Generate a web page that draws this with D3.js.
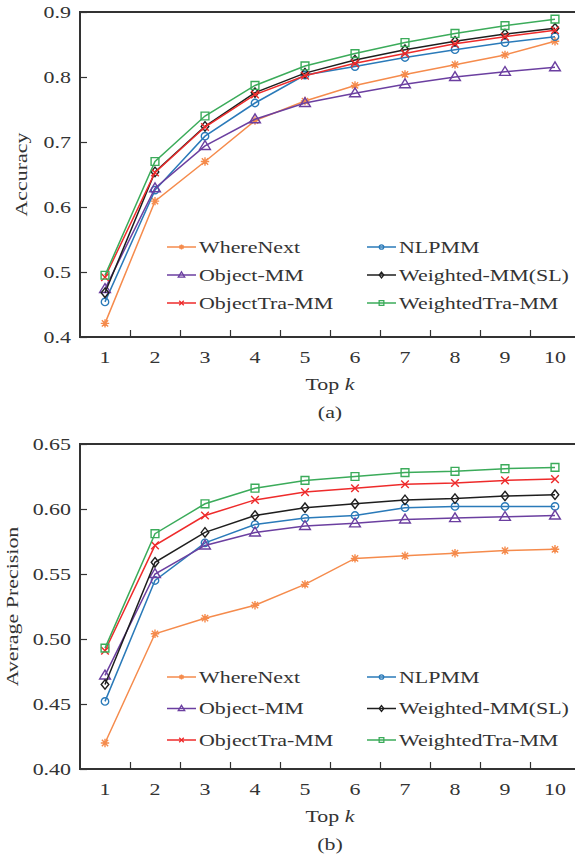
<!DOCTYPE html>
<html>
<head>
<meta charset="utf-8">
<script src="https://cdn.jsdelivr.net/npm/d3@7"></script>
<style>
  html, body { margin: 0; padding: 0; background: #fff; }
  svg { display: block; }
  text { font-family: "Liberation Serif", "DejaVu Serif", serif; fill: #333; }
</style>
</head>
<body>
<div id="chart"></div>
<script>
// Top-k accuracy / average precision for six methods

const topK = [1, 2, 3, 4, 5, 6, 7, 8, 9, 10]
const seriesNames = ["WhereNext", "NLPMM", "Object-MM", "Weighted-MM(SL)", "ObjectTra-MM", "WeightedTra-MM"]
const seriesColors = ["#f58b4c", "#2a7ab9", "#6b3fa0", "#1e1e1e", "#ee2b2b", "#3bab5a"]
const seriesMarkers = ["asterisk", "circle", "triangle", "diamond", "times", "square"]

// panel (a): accuracy
const accWhereNext = [0.421, 0.609, 0.670, 0.733, 0.763, 0.787, 0.804, 0.819, 0.834, 0.855]
const accNLPMM     = [0.454, 0.626, 0.709, 0.760, 0.803, 0.816, 0.830, 0.842, 0.853, 0.862]
const accObjectMM  = [0.474, 0.629, 0.694, 0.735, 0.760, 0.775, 0.789, 0.800, 0.808, 0.815]
const accWeighted  = [0.468, 0.654, 0.724, 0.776, 0.806, 0.826, 0.842, 0.855, 0.866, 0.875]
const accObjTra    = [0.492, 0.653, 0.723, 0.773, 0.802, 0.821, 0.836, 0.851, 0.862, 0.872]
const accWeiTra    = [0.495, 0.670, 0.740, 0.787, 0.817, 0.836, 0.853, 0.867, 0.879, 0.889]
const accTicks = [0.4, 0.5, 0.6, 0.7, 0.8, 0.9]

// panel (b): average precision
const apWhereNext = [0.420, 0.504, 0.516, 0.526, 0.542, 0.562, 0.564, 0.566, 0.568, 0.569]
const apNLPMM     = [0.452, 0.545, 0.574, 0.588, 0.593, 0.595, 0.601, 0.602, 0.602, 0.602]
const apObjectMM  = [0.472, 0.550, 0.572, 0.582, 0.587, 0.589, 0.592, 0.593, 0.594, 0.595]
const apWeighted  = [0.465, 0.559, 0.582, 0.595, 0.601, 0.604, 0.607, 0.608, 0.610, 0.611]
const apObjTra    = [0.491, 0.572, 0.595, 0.607, 0.613, 0.616, 0.619, 0.620, 0.622, 0.623]
const apWeiTra    = [0.493, 0.581, 0.604, 0.616, 0.622, 0.625, 0.628, 0.629, 0.631, 0.632]
const apTicks = [0.40, 0.45, 0.50, 0.55, 0.60, 0.65]

const W = 575, H = 856
const STRETCH = 1.29   // the reference font runs much wider than Liberation Serif
const FONT_SIZE = 17
const FRAME = "#333"

const svg = d3.select("#chart").append("svg")
  .attr("width", W)
  .attr("height", H)

// text helper: places a horizontally stretched label
function label(parent, x, y, str, opts = {}) {
  const g = parent.append("g")
    .attr("transform", `translate(${x},${y})` + (opts.rotate ? ` rotate(${opts.rotate})` : "") + ` scale(${STRETCH},1)`)
  const t = g.append("text")
    .attr("text-anchor", opts.anchor || "middle")
    .attr("dy", "0.35em")
    .style("font-size", (opts.size || FONT_SIZE) + "px")
  if (opts.italicTail) {
    t.append("tspan").text(str)
    t.append("tspan").style("font-style", "italic").text(opts.italicTail)
  } else {
    t.text(str)
  }
  return t
}

function markerPath(type, s) {
  switch (type) {
    case "circle":
      return `M${s},0A${s},${s} 0 1,1 ${-s},0A${s},${s} 0 1,1 ${s},0Z`
    case "square":
      return `M${-s},${-s}H${s}V${s}H${-s}Z`
    case "diamond":
      return `M0,${-s * 1.25}L${s},0L0,${s * 1.25}L${-s},0Z`
    case "triangle": {
      const h = s * 1.8
      return `M0,${-h * 0.6}L${s * 1.1},${h * 0.4}L${-s * 1.1},${h * 0.4}Z`
    }
    case "times":
      return `M${-s},${-s}L${s},${s}M${-s},${s}L${s},${-s}`
    case "asterisk": {
      const d = s * 0.75
      return `M${-s},0H${s}M0,${-s}V${s}M${-d},${-d}L${d},${d}M${-d},${d}L${d},${-d}`
    }
  }
}

const markerSize = { circle: 3.7, square: 3.9, diamond: 3.8, triangle: 4.9, times: 3.8, asterisk: 4.2 }

function drawPanel(cfg) {
  const x = d3.scaleBand().domain(topK).range([80, 580]).padding(0)
  const y = d3.scaleLinear().domain(cfg.domain).range([cfg.bottom, cfg.top])
  const g = svg.append("g")

  // left axis with inward ticks
  g.append("g")
    .attr("transform", "translate(80,0)")
    .call(d3.axisLeft(y).tickValues(cfg.ticks).tickSize(-7).tickFormat(""))
    .call(a => a.select(".domain").remove())
    .call(a => a.selectAll("line").attr("stroke", FRAME).attr("stroke-width", 1.2))

  cfg.ticks.forEach(v => {
    label(g, 71, y(v), d3.format(cfg.fmt)(v), { anchor: "end" })
  })

  // bottom ticks sit on the borders between k values
  const bx = d3.scaleLinear().domain([0.5, 10.5]).range([80, 580])
  g.append("g")
    .attr("transform", `translate(0,${cfg.bottom})`)
    .call(d3.axisBottom(bx).tickValues(topK.slice(0, -1).map(k => k + 0.5)).tickSize(-7).tickFormat(""))
    .call(a => a.select(".domain").remove())
    .call(a => a.selectAll("line").attr("stroke", FRAME).attr("stroke-width", 1.2))

  topK.forEach(k => {
    label(g, x(k) + x.bandwidth() / 2, cfg.bottom + 20, String(k))
  })

  // frame
  g.append("rect")
    .attr("x", 80)
    .attr("y", cfg.top)
    .attr("width", 500)
    .attr("height", cfg.bottom - cfg.top)
    .attr("fill", "none")
    .attr("stroke", FRAME)
    .attr("stroke-width", 2)

  label(g, 330, cfg.bottom + 47, "Top ", { italicTail: "k" })
  label(g, 330, cfg.bottom + 75, cfg.caption)
  label(g, cfg.ytitleX, (cfg.top + cfg.bottom) / 2, cfg.ytitle, { rotate: -90 })

  const cx = k => x(k) + x.bandwidth() / 2
  const line = d3.line()
    .x((d, i) => cx(topK[i]))
    .y(d => y(d))

  cfg.series.forEach((vals, si) => {
    const color = seriesColors[si]
    const type = seriesMarkers[si]
    g.append("path")
      .datum(vals)
      .attr("d", line)
      .attr("fill", "none")
      .attr("stroke", color)
      .attr("stroke-width", 1.5)

    g.selectAll(null)
      .data(vals)
      .enter()
      .append("path")
      .attr("transform", (d, i) => `translate(${cx(topK[i])},${y(d)})`)
      .attr("d", markerPath(type, markerSize[type]))
      .attr("fill", "none")
      .attr("stroke", color)
      .attr("stroke-width", 1.4)
  })

  // legend, two columns
  seriesNames.forEach((name, si) => {
    const col = si % 2
    const row = Math.floor(si / 2)
    const lx = col === 0 ? 167 : 367
    const ly = cfg.legendY + row * cfg.legendStep
    const color = seriesColors[si]
    const type = seriesMarkers[si]
    g.append("line")
      .attr("x1", lx).attr("x2", lx + 29)
      .attr("y1", ly).attr("y2", ly)
      .attr("stroke", color)
      .attr("stroke-width", 1.5)
    g.append("path")
      .attr("transform", `translate(${lx + 14.5},${ly})`)
      .attr("d", markerPath(type, markerSize[type] * 0.6))
      .attr("fill", "none")
      .attr("stroke", color)
      .attr("stroke-width", 1.3)
    label(g, lx + 32, ly, name, { anchor: "start" })
  })
}

drawPanel({
  top: 12, bottom: 337,
  domain: [0.4, 0.9], ticks: accTicks, fmt: ".1f",
  ytitle: "Accuracy", ytitleX: 21, caption: "(a)",
  series: [accWhereNext, accNLPMM, accObjectMM, accWeighted, accObjTra, accWeiTra],
  legendY: 247, legendStep: 28
})

drawPanel({
  top: 444, bottom: 769,
  domain: [0.40, 0.65], ticks: apTicks, fmt: ".2f",
  ytitle: "Average Precision", ytitleX: 12, caption: "(b)",
  series: [apWhereNext, apNLPMM, apObjectMM, apWeighted, apObjTra, apWeiTra],
  legendY: 677, legendStep: 31.5
})
</script>
</body>
</html>
